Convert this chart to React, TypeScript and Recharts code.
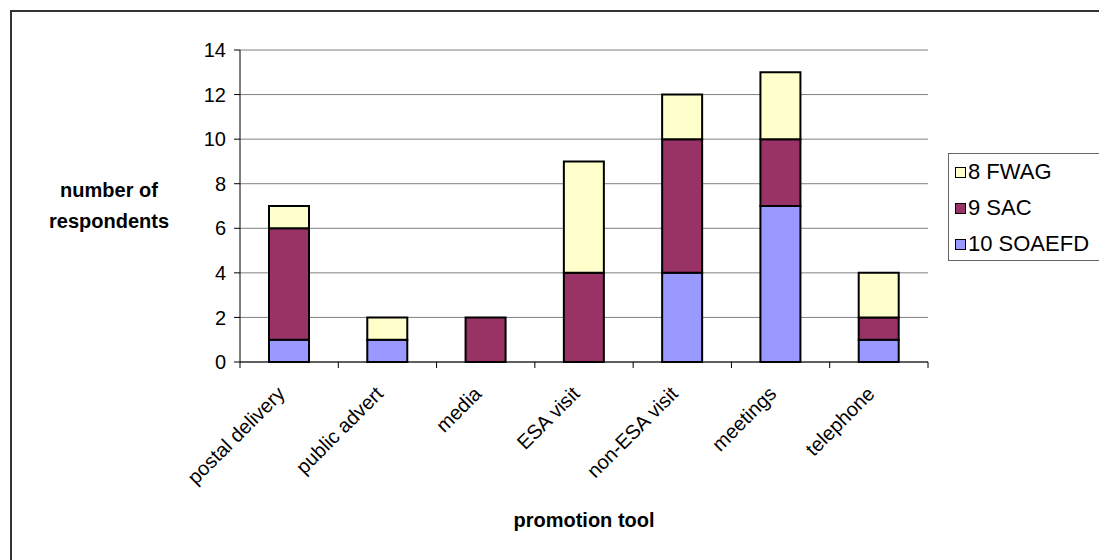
import { BarChart, Bar, XAxis, YAxis, CartesianGrid } from 'recharts'

// promotion tools and respondents per group (stacked bottom to top: SOAEFD, SAC, FWAG)
const tools = ['postal delivery', 'public advert', 'media', 'ESA visit', 'non-ESA visit', 'meetings', 'telephone']
const soaefd = [1, 1, 0, 0, 4, 7, 1]
const sac = [5, 0, 2, 4, 6, 3, 1]
const fwag = [1, 1, 0, 5, 2, 3, 2]
const yTicks = [0, 2, 4, 6, 8, 10, 12, 14]

const series = [
  { key: 'soaefd', name: '10 SOAEFD', color: '#9999FF' },
  { key: 'sac', name: '9 SAC', color: '#993366' },
  { key: 'fwag', name: '8 FWAG', color: '#FFFFCC' },
]

const data = tools.map((tool, i) => ({ tool, soaefd: soaefd[i], sac: sac[i], fwag: fwag[i] }))

const W = 1099
const H = 560
const PLOT_LEFT = 240
const PLOT_RIGHT = 928
const PLOT_TOP = 50
const PLOT_BOTTOM = 362
const BAND = (PLOT_RIGHT - PLOT_LEFT) / tools.length
const FONT = '"Liberation Sans", Arial, sans-serif'

// category label rotated 45deg plus tick marks on the band edges
function ToolTick(props: any) {
  const { x, payload, index } = props
  const last = index === tools.length - 1
  const ax = x - 3
  const ay = PLOT_BOTTOM + 33
  return (
    <g>
      <line x1={x - BAND / 2} x2={x - BAND / 2} y1={PLOT_BOTTOM} y2={PLOT_BOTTOM + 6} stroke="#000" />
      {last && <line x1={x + BAND / 2} x2={x + BAND / 2} y1={PLOT_BOTTOM} y2={PLOT_BOTTOM + 6} stroke="#000" />}
      <text
        x={ax}
        y={ay}
        textAnchor="end"
        transform={`rotate(-45, ${ax}, ${ay})`}
        fontSize={20}
        fontFamily={FONT}
        fill="#000"
      >
        {payload.value}
      </text>
    </g>
  )
}

export default function App() {
  const legendItems = [...series].reverse()
  return (
    <div style={{ position: 'absolute', left: 0, top: 0, width: W, height: H, overflow: 'hidden', background: '#fff', fontFamily: FONT }}>
      {/* outer chart frame */}
      <div style={{ position: 'absolute', left: 10, top: 10, width: 1200, height: 700, border: '2px solid #333' }} />

      <BarChart
        width={W}
        height={H}
        data={data}
        margin={{ top: PLOT_TOP, right: W - PLOT_RIGHT, bottom: 0, left: 0 }}
        style={{ position: 'absolute', left: 0, top: 0 }}
      >
        <CartesianGrid vertical={false} stroke="#808080" strokeWidth={1} />
        <XAxis
          dataKey="tool"
          height={H - PLOT_BOTTOM}
          tickLine={false}
          axisLine={{ stroke: '#000', strokeWidth: 1 }}
          tick={<ToolTick />}
          interval={0}
        />
        <YAxis
          width={PLOT_LEFT}
          domain={[0, 14]}
          ticks={yTicks}
          interval={0}
          tickSize={6}
          tickMargin={8}
          axisLine={{ stroke: '#000', strokeWidth: 1 }}
          tickLine={{ stroke: '#000' }}
          tick={{ fill: '#000', fontSize: 20, fontFamily: FONT }}
        />
        {series.map((s) => (
          <Bar
            key={s.key}
            dataKey={s.key}
            name={s.name}
            stackId="a"
            fill={s.color}
            stroke="#000"
            strokeWidth={2}
            barSize={40}
            isAnimationActive={false}
          />
        ))}
      </BarChart>

      {/* axis titles */}
      <div style={{ position: 'absolute', left: 39, top: 175, width: 140, textAlign: 'center', fontWeight: 'bold', fontSize: 20, lineHeight: '31px' }}>
        number of
        <br />
        respondents
      </div>
      <div style={{ position: 'absolute', left: PLOT_LEFT, top: 509, width: PLOT_RIGHT - PLOT_LEFT, textAlign: 'center', fontWeight: 'bold', fontSize: 20 }}>
        promotion tool
      </div>

      {/* legend */}
      <div style={{ position: 'absolute', left: 948, top: 153, width: 200, height: 106, border: '1px solid #666', background: '#fff' }}>
        {legendItems.map((s, i) => (
          <div key={s.key} style={{ position: 'absolute', left: 6, top: 5 + i * 36, display: 'flex', alignItems: 'center', fontSize: 22, lineHeight: '26px', whiteSpace: 'nowrap' }}>
            <span style={{ display: 'inline-block', width: 9, height: 9, background: s.color, border: '1px solid #000', marginRight: 2 }} />
            {s.name}
          </div>
        ))}
      </div>
    </div>
  )
}
